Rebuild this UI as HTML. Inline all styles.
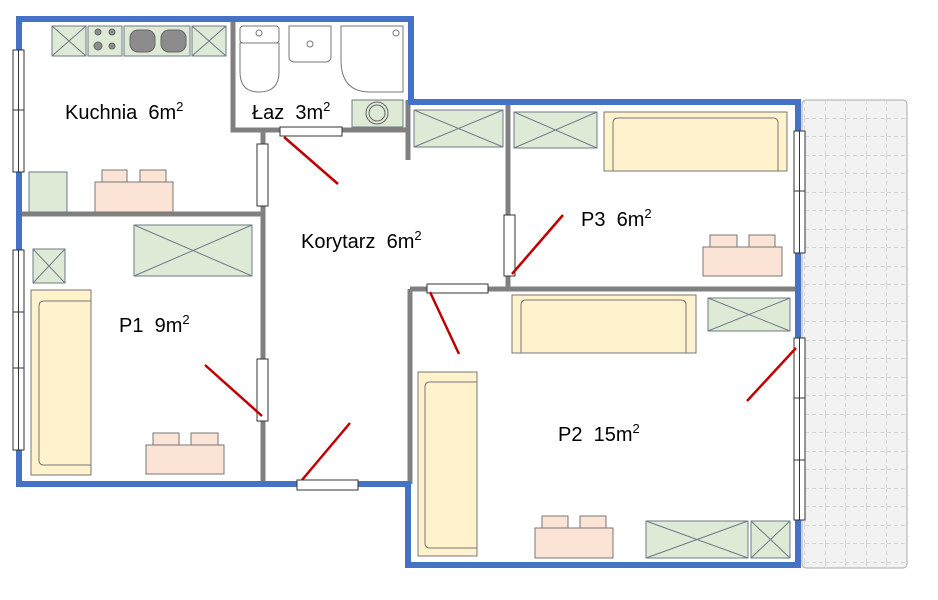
<!DOCTYPE html>
<html><head><meta charset="utf-8"><style>body{margin:0;background:#fff}svg{display:block}text{font-family:"Liberation Sans",sans-serif;font-size:20px;fill:#000}</style></head><body>
<svg width="938" height="600" viewBox="0 0 938 600" xmlns="http://www.w3.org/2000/svg">
<defs>
<pattern id="g" width="20.5" height="18.5" patternUnits="userSpaceOnUse" x="805" y="100"><path d="M20.5 0V18.5M0 18.5H20.5" stroke="#bbb" stroke-width="1" stroke-dasharray="4 3" fill="none"/></pattern>
</defs>
<!-- balcony -->
<rect x="802" y="100" width="105" height="468" rx="4" fill="#f2f2f2" stroke="#aaa"/>
<rect x="803" y="101" width="103" height="466" fill="url(#g)"/>
<!-- gray walls -->
<g stroke="#808080" stroke-width="5" fill="none">
<path d="M233 19V130H408"/><path d="M408 100V160"/>
<path d="M19 214H263"/><path d="M263 130V484"/>
<path d="M508 102V290"/><path d="M410 289H798"/><path d="M410 289V484"/>
</g>
<!-- blue walls -->
<path d="M19 19H411V102H798V565H408V484H19Z" fill="none" stroke="#4472c4" stroke-width="6"/>
<!-- windows / doors -->
<g fill="#fff" stroke="#333" stroke-width="1">
<rect x="13" y="50" width="11" height="122"/><line x1="18.5" y1="50" x2="18.5" y2="172"/><line x1="13" y1="110" x2="24" y2="110"/>
<rect x="13" y="250" width="11" height="200"/><line x1="18.5" y1="250" x2="18.5" y2="450"/><line x1="13" y1="312" x2="24" y2="312"/><line x1="13" y1="368" x2="24" y2="368"/>
<rect x="794" y="131" width="11" height="122"/><line x1="799.5" y1="131" x2="799.5" y2="253"/><line x1="794" y1="191" x2="805" y2="191"/>
<rect x="794" y="338" width="11" height="182"/><line x1="799.5" y1="338" x2="799.5" y2="520"/><line x1="794" y1="398" x2="805" y2="398"/><line x1="794" y1="460" x2="805" y2="460"/>
<rect x="280" y="127" width="62" height="9"/>
<rect x="257" y="144" width="11" height="62"/>
<rect x="257" y="359" width="11" height="62"/>
<rect x="297" y="480" width="61" height="10"/>
<rect x="504" y="215" width="11" height="61"/>
<rect x="427" y="284" width="61" height="9"/>
</g>
<!-- door swings -->
<g stroke="#c00000" stroke-width="2.5">
<line x1="284" y1="137" x2="338" y2="184"/><line x1="262" y1="416" x2="205" y2="365"/>
<line x1="302" y1="480" x2="350" y2="423"/><line x1="512" y1="274" x2="563" y2="215"/>
<line x1="430" y1="292" x2="459" y2="354"/><line x1="796" y1="348" x2="747" y2="401"/>
</g>
<!-- furniture -->
<g stroke="#6d7b86" stroke-width="1" fill="#dfead6">
<rect x="52" y="26" width="34" height="30"/><path d="M52 26L86 56M86 26L52 56"/>
<rect x="88" y="26" width="34" height="30"/>
<rect x="124" y="26" width="66" height="30"/>
<rect x="192" y="26" width="34" height="30"/><path d="M192 26L226 56M226 26L192 56"/>
<rect x="29" y="172" width="38" height="40"/>
<rect x="352" y="100" width="51" height="27"/>
<rect x="414" y="110" width="89" height="37"/><path d="M414 110L503 147M503 110L414 147"/>
<rect x="514" y="112" width="83" height="36"/><path d="M514 112L597 148M597 112L514 148"/>
<rect x="134" y="225" width="118" height="51"/><path d="M134 225L252 276M252 225L134 276"/>
<rect x="33" y="249" width="32" height="34"/><path d="M33 249L65 283M65 249L33 283"/>
<rect x="708" y="298" width="82" height="33"/><path d="M708 298L790 331M790 298L708 331"/>
<rect x="646" y="521" width="102" height="37"/><path d="M646 521L748 558M748 521L646 558"/>
<rect x="751" y="521" width="39" height="37"/><path d="M751 521L790 558M790 521L751 558"/>
</g>
<g fill="#8c8c8c" stroke="#666">
<circle cx="98" cy="32" r="3"/><circle cx="112" cy="32" r="3"/><circle cx="98" cy="46" r="4"/><circle cx="112" cy="46" r="3"/>
<rect x="130" y="30" width="25" height="22" rx="8"/><rect x="161" y="30" width="25" height="22" rx="8"/>
</g>
<g fill="none" stroke="#666"><circle cx="377" cy="113" r="11"/><circle cx="377" cy="113" r="8"/></g>
<!-- bathroom -->
<g fill="#fff" stroke="#777" stroke-width="1">
<rect x="240" y="26" width="39" height="17" rx="3"/><path d="M240 43H279V72Q279 92 259 92Q240 92 240 72Z"/><circle cx="259" cy="33" r="3"/>
<path d="M289 26H331V56Q331 62 325 62H295Q289 62 289 56Z"/><circle cx="310" cy="44" r="3"/>
<path d="M341 26H403V92H370Q341 92 341 60Z"/><circle cx="396" cy="33" r="3"/>
</g>
<!-- beds -->
<g stroke="#777" stroke-width="1" fill="#fff2cc">
<rect x="604" y="112" width="183" height="59"/><path d="M613 171V123Q613 118 618 118H773Q778 118 778 123V171" fill="none"/>
<rect x="31" y="290" width="60" height="185"/><path d="M91 301H44Q39 301 39 306V460Q39 465 44 465H91" fill="none"/>
<rect x="512" y="295" width="184" height="58"/><path d="M521 353V305Q521 300 526 300H681Q686 300 686 305V353" fill="none"/>
<rect x="418" y="372" width="59" height="184"/><path d="M477 382H430Q425 382 425 387V543Q425 548 430 548H477" fill="none"/>
</g>
<!-- tables -->
<g stroke="#777" stroke-width="1" fill="#fbe3d6">
<rect x="102" y="170" width="25" height="12"/><rect x="140" y="170" width="26" height="12"/><rect x="95" y="182" width="78" height="30"/>
<rect x="710" y="235" width="27" height="12"/><rect x="749" y="235" width="26" height="12"/><rect x="703" y="247" width="79" height="29"/>
<rect x="153" y="433" width="26" height="12"/><rect x="191" y="433" width="27" height="12"/><rect x="146" y="445" width="78" height="29"/>
<rect x="542" y="516" width="26" height="12"/><rect x="580" y="516" width="26" height="12"/><rect x="535" y="528" width="78" height="30"/>
</g>
<!-- labels -->
<text x="65" y="119">Kuchnia&#160; 6m<tspan dy="-8" font-size="13">2</tspan></text>
<text x="252" y="119">Łaz&#160; 3m<tspan dy="-8" font-size="13">2</tspan></text>
<text x="301" y="248">Korytarz&#160; 6m<tspan dy="-8" font-size="13">2</tspan></text>
<text x="581" y="226">P3&#160; 6m<tspan dy="-8" font-size="13">2</tspan></text>
<text x="119" y="332">P1&#160; 9m<tspan dy="-8" font-size="13">2</tspan></text>
<text x="558" y="441">P2&#160; 15m<tspan dy="-8" font-size="13">2</tspan></text>
</svg>
</body></html>
